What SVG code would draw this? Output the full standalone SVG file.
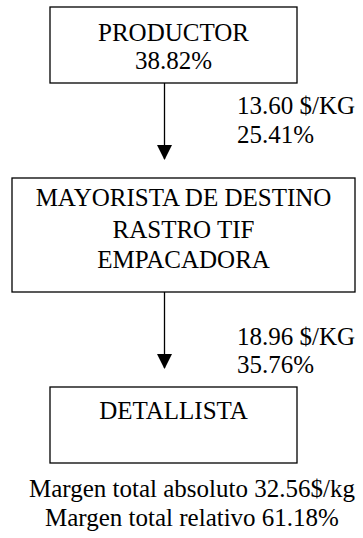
<svg xmlns="http://www.w3.org/2000/svg" width="363" height="538" viewBox="0 0 363 538" font-family="'Liberation Serif', 'Times New Roman', Tinos, 'DejaVu Serif', serif">
  <style>
    .box { fill: #ffffff; stroke: #000000; stroke-width: 1.3; }
    text { font-family: 'Liberation Serif', 'Times New Roman', Tinos, 'DejaVu Serif', serif; font-size: 25px; fill: #000000; }
    .c { text-anchor: middle; }
    .edge { stroke: #000000; stroke-width: 1.3; fill: none; }
  </style>
  <defs>
    <marker id="arrow" markerWidth="15" markerHeight="16" refX="15" refY="8" orient="auto" markerUnits="userSpaceOnUse" viewBox="0 0 16 16">
      <path d="M0,0 L16,8 L0,16 Z" fill="#000000"/>
    </marker>
  </defs>
  <rect width="363" height="538" fill="#ffffff"/>
  <g id="connectors">
    <line class="edge" x1="164.5" y1="83" x2="164.5" y2="159" marker-end="url(#arrow)"/>
    <line class="edge" x1="164.5" y1="292" x2="164.5" y2="368" marker-end="url(#arrow)"/>
    <text x="237" y="114">13.60 $/KG</text>
    <text x="237" y="143">25.41%</text>
    <text x="237" y="344.5">18.96 $/KG</text>
    <text x="237" y="373">35.76%</text>
  </g>
  <g id="productor">
    <rect class="box" x="50" y="7" width="247" height="76"/>
    <text class="c" x="173.5" y="40.5">PRODUCTOR</text>
    <text class="c" x="173.5" y="68.5">38.82%</text>
  </g>
  <g id="mayorista">
    <rect class="box" x="12" y="178" width="343" height="114"/>
    <text class="c" x="183.5" y="206">MAYORISTA DE DESTINO</text>
    <text class="c" x="183.5" y="237.5">RASTRO TIF</text>
    <text class="c" x="183.5" y="268">EMPACADORA</text>
  </g>
  <g id="detallista">
    <rect class="box" x="50" y="387" width="247" height="76"/>
    <text class="c" x="173.5" y="419">DETALLISTA</text>
  </g>
  <g id="totales">
    <text class="c" x="192" y="497">Margen total absoluto 32.56$/kg</text>
    <text class="c" x="192" y="526">Margen total relativo 61.18%</text>
  </g>
</svg>
